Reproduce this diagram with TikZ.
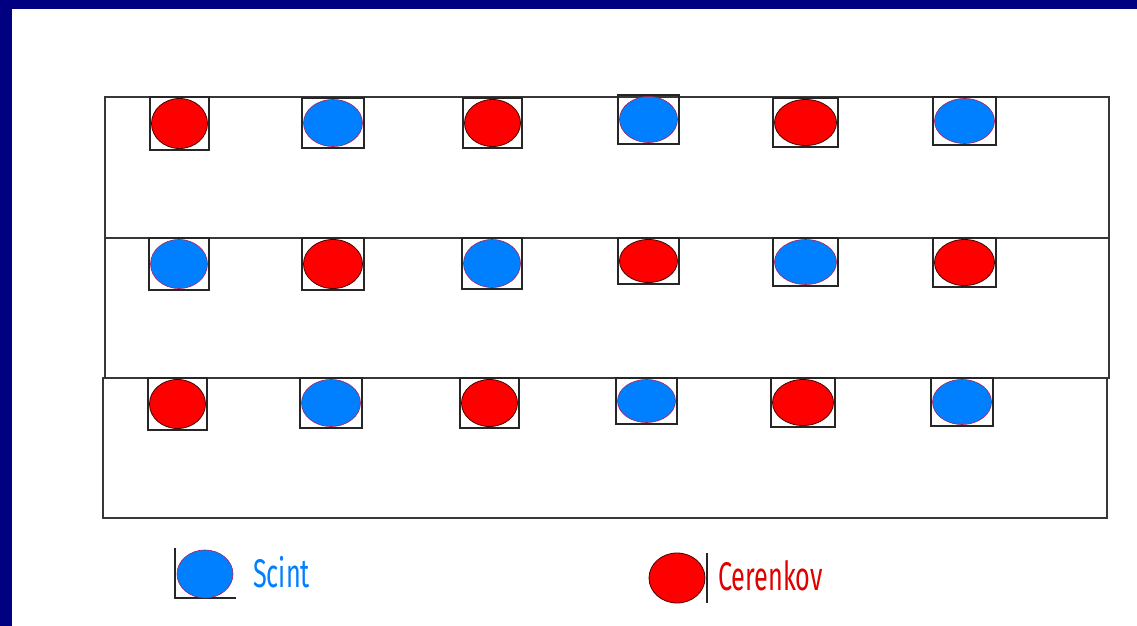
\documentclass[tikz,border=0pt]{standalone}
\usepackage{fontspec}
\newfontfamily\legendfont[FakeStretch=0.63]{Fira Sans}
\definecolor{navy}{RGB}{0,0,128}
\definecolor{scblue}{RGB}{0,128,255}
\definecolor{cred}{RGB}{255,0,0}
\definecolor{txtred}{RGB}{225,0,0}
\definecolor{rimred}{RGB}{70,0,0}
\definecolor{rimblue}{RGB}{170,30,90}
\definecolor{framegray}{RGB}{55,55,55}
\tikzset{
  rowbox/.style={draw=framegray, line width=1.3pt},
  cellbox/.style={draw=black!85, line width=1.3pt},
  cdot/.style={fill=cred, draw=rimred, line width=0.8pt},
  sdot/.style={fill=scblue, draw=rimblue, line width=0.6pt},
  legendtext/.style={anchor=base west, inner sep=0pt, font=\legendfont\fontsize{40}{40}\selectfont}
}
\begin{document}
\begin{tikzpicture}[x=1pt,y=-1pt]
\useasboundingbox (0,0) rectangle (1137,626);
\fill[white] (0,0) rectangle (1137,626);
\fill[navy] (0,0) rectangle (1137,9);
\fill[navy] (0,0) rectangle (12,626);
% rows
\draw[rowbox] (105,97) rectangle (1109,238);
\draw[rowbox] (105,238) rectangle (1109,378);
\draw[rowbox] (103,378) rectangle (1107,518);
% cells
\foreach \xl/\xr/\yt/\yb/\k in {
  150/209/97/150/cdot, 302/364/98/148/sdot, 463/522/98/148/cdot,
  618/679/95/144/sdot, 773/838/98/147/cdot, 933/996/97/145/sdot,
  149/209/238/290/sdot, 302/364/238/290/cdot, 462/522/238/289/sdot,
  618/679/238/284/cdot, 773/838/238/286/sdot, 933/996/238/287/cdot,
  148/207/378/430/cdot, 300/362/378/428/sdot, 460/519/378/428/cdot,
  616/677/378/424/sdot, 771/835/378/427/cdot, 931/993/378/426/sdot}
{
  \draw[cellbox] (\xl,\yt) rectangle (\xr,\yb);
  \path[\k] ({(\xl+\xr)/2},{(\yt+\yb)/2}) ellipse [x radius={(\xr-\xl)/2-1.5}, y radius={(\yb-\yt)/2-1.5}];
}
% legend
\draw[cellbox] (175,548) -- (175,598) -- (236,598);
\path[sdot] (205,574) ellipse [x radius=28, y radius=24];
\node[legendtext, text=scblue] (scint) at (253,587) {Scint};
\path[cdot] (677,578) ellipse [x radius=28, y radius=25];
\draw[cellbox] (707,553) -- (707,603);
\node[legendtext, text=txtred] (cerenkov) at (718,590) {Cerenkov};
\end{tikzpicture}
\end{document}
